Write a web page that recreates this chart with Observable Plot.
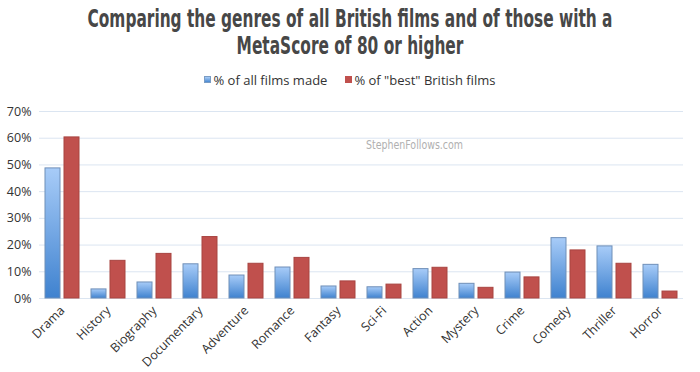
<!DOCTYPE html>
<html>
<head>
<meta charset="utf-8">
<script src="https://cdn.jsdelivr.net/npm/d3@7"></script>
<script src="https://cdn.jsdelivr.net/npm/@observablehq/plot@0.6"></script>
<style>
  html, body { margin: 0; padding: 0; background: #fff; }
  #wrap { position: relative; width: 700px; height: 372px; overflow: hidden; font-family: "Open Sans", sans-serif; }
  #title { position: absolute; left: 0; top: 0; width: 700px; height: 62px;
    font-family: "DejaVu Sans", sans-serif; font-stretch: condensed; font-weight: bold;
    font-size: 25px; line-height: 25px; color: #474747; }
  #title .line { position: absolute; left: 350px; white-space: nowrap; transform-origin: 0 50%; }
  #legend { position: absolute; left: 0; top: 71px; width: 700px; text-align: center; font-size: 13px; color: #333; white-space: nowrap; }
  #legend span.item { margin: 0 9px; }
  #legend span.sw { display: inline-block; width: 7px; height: 7px; margin-right: 2px; vertical-align: 2px; }
  #chart { position: absolute; left: 0; top: 90px; }
  #watermark { position: absolute; left: 366px; top: 137px; font-family: "DejaVu Sans", sans-serif; font-stretch: condensed;
    font-size: 13px; color: #b0b0b0; white-space: nowrap; transform-origin: 0 50%; }
</style>
</head>
<body>
<div id="wrap">
  <div id="title"><span class="line" id="t1" style="top:6px">Comparing the genres of all British films and of those with a</span><span class="line" id="t2" style="top:33px">MetaScore of 80 or higher</span></div>
  <div id="legend"></div>
  <div id="chart"></div>
  <div id="watermark">StephenFollows.com</div>
</div>
<script>
const genres = ["Drama","History","Biography","Documentary","Adventure","Romance","Fantasy","Sci-Fi","Action","Mystery","Crime","Comedy","Thriller","Horror"];
const series = ["% of all films made", "% of \"best\" British films"];
const allFilms = [48.7, 3.4, 6.0, 12.8, 8.6, 11.6, 4.5, 4.2, 11.0, 5.5, 9.7, 22.6, 19.5, 12.6];
const bestFilms = [60.3, 14.1, 16.7, 23.0, 13.0, 15.2, 6.4, 5.2, 11.5, 4.0, 7.9, 18.0, 13.0, 2.6];
const yTicks = [0, 10, 20, 30, 40, 50, 60, 70];

const data = [];
genres.forEach((g, i) => {
  data.push({genre: g, series: series[0], value: allFilms[i]});
  data.push({genre: g, series: series[1], value: bestFilms[i]});
});

// fit condensed title width
function textWidth(el) {
  const r = document.createRange();
  r.selectNodeContents(el);
  return r.getBoundingClientRect().width;
}
const t1 = document.getElementById("t1"), t2 = document.getElementById("t2");
const w1 = textWidth(t1), w2 = textWidth(t2);
const s = 525 / w1;
t1.style.transform = `scaleX(${s}) translateX(${-w1 / 2}px)`;
t2.style.transform = `scaleX(${s}) translateX(${-w2 / 2}px)`;
const wm = document.getElementById("watermark");
wm.style.transform = `scaleX(${97 / textWidth(wm)})`;

// legend
const legend = document.getElementById("legend");
legend.innerHTML =
  `<span class="item"><span class="sw" style="background:linear-gradient(#a9cdf7,#4a89d2);border:1px solid #7a9cc4;width:5px;height:5px"></span>${series[0]}</span>` +
  `<span class="item"><span class="sw" style="background:#c0504d"></span>${series[1].replace(/"/g, "&quot;")}</span>`;

const defs = () => {
  const ns = "http://www.w3.org/2000/svg";
  const d = document.createElementNS(ns, "defs");
  d.innerHTML = `<linearGradient id="blueGrad" x1="0" y1="0" x2="0" y2="1">
      <stop offset="0%" stop-color="#a8ccf8"/>
      <stop offset="100%" stop-color="#3f82cf"/>
    </linearGradient>`;
  return d;
};

const chart = Plot.plot({
  width: 700,
  height: 282,
  marginTop: 21,
  marginBottom: 74,
  marginLeft: 38,
  marginRight: 17,
  style: {fontFamily: "'Open Sans', sans-serif", fontSize: "12px", color: "#333", background: "transparent"},
  fx: {domain: genres, padding: 0, label: null},
  x: {domain: series, axis: null, paddingInner: 0.2, paddingOuter: 0.3},
  y: {domain: [0, 70], axis: null},
  color: {domain: series, range: ["url(#blueGrad)", "#c0504d"]},
  marks: [
    defs,
    Plot.gridY(yTicks, {stroke: "#dbe5f1", strokeOpacity: 1, strokeWidth: 1}),
    Plot.barY(data, {fx: "genre", x: "series", y: "value", fill: "series",
      stroke: d => d.series === series[0] ? "#6f8fb8" : "#a84441", strokeWidth: 1}),
    Plot.axisY(yTicks, {tickSize: 0, tickPadding: 8, tickFormat: d => d + "%", fontSize: 12.5, fill: "#333", label: null}),
    Plot.axisFx({anchor: "bottom", tickSize: 0, tickRotate: -45, tickPadding: 10, fontSize: 12.5, fill: "#333", label: null})
  ]
});
document.getElementById("chart").appendChild(chart);
</script>
</body>
</html>
